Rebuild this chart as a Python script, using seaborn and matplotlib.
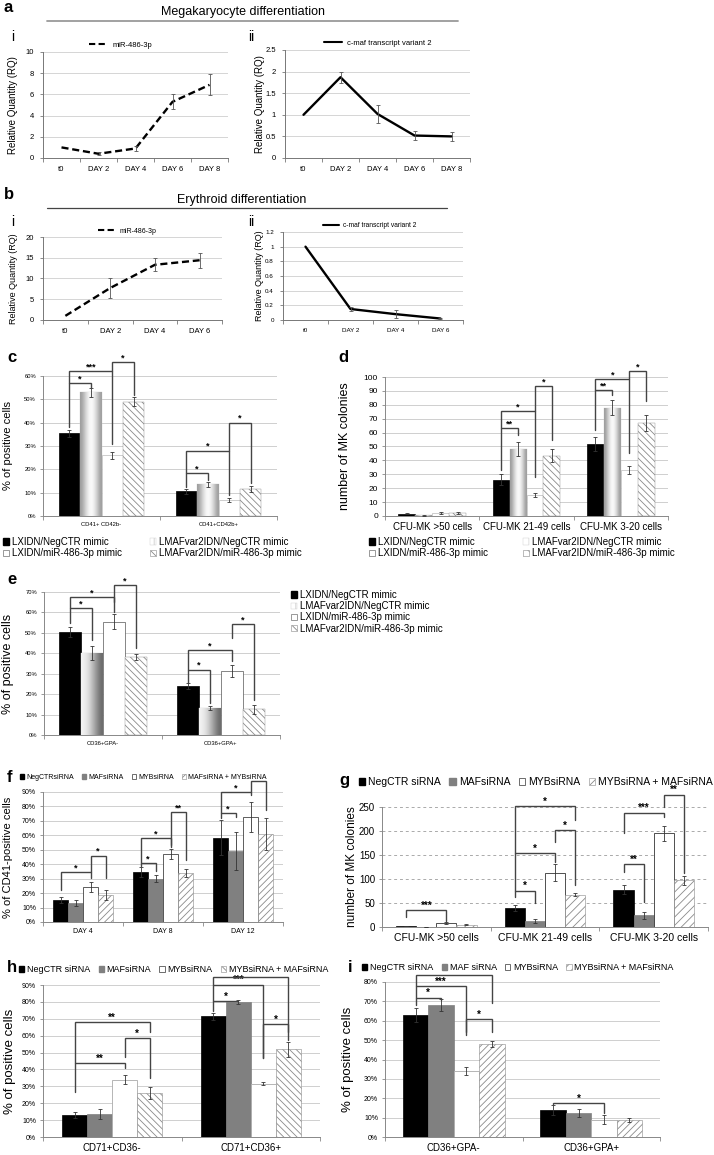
import numpy as np
import pandas as pd
import matplotlib
matplotlib.use("Agg")
import matplotlib.pyplot as plt
import matplotlib.ticker as mticker
from matplotlib.patches import Patch
from matplotlib.lines import Line2D
import seaborn as sns

W, H = 714, 1155

# ---------------- data ----------------
mk_days = ["t0", "DAY 2", "DAY 4", "DAY 6", "DAY 8"]
mk_mir = [1.0, 0.4, 0.9, 5.3, 6.9]
mk_mir_err = [0, 0.12, 0.2, 0.7, 1.0]
mk_cmaf = [1.0, 1.87, 1.02, 0.52, 0.5]
mk_cmaf_err = [0, 0.13, 0.2, 0.1, 0.1]

ery_days = ["t0", "DAY 2", "DAY 4", "DAY 6"]
ery_mir = [1.0, 7.7, 13.3, 14.4]
ery_mir_err = [0, 2.3, 1.6, 1.8]
ery_cmaf = [1.0, 0.15, 0.08, 0.02]
ery_cmaf_err = [0, 0.03, 0.05, 0.005]

mimic_series = ["LXIDN/NegCTR mimic", "LMAFvar2IDN/NegCTR mimic",
                "LXIDN/miR-486-3p mimic", "LMAFvar2IDN/miR-486-3p mimic"]
sirna_series = ["NegCTR siRNA", "MAFsiRNA", "MYBsiRNA", "MYBsiRNA + MAFsiRNA"]

c_groups = ["CD41+ CD42b-", "CD41+CD42b+"]
c_vals = [[35.5, 10.5], [53, 13.5], [26, 7], [49, 11.5]]
c_errs = [[1.5, 1.0], [2.0, 1.2], [1.5, 0.8], [2.0, 1.2]]

d_groups = ["CFU-MK >50 cells", "CFU-MK 21-49 cells", "CFU-MK 3-20 cells"]
d_vals = [[1.5, 26, 52], [0.5, 48, 78], [2, 15, 33], [2, 43.5, 67]]
d_errs = [[0.4, 4, 5], [0.3, 5, 5.5], [0.8, 1.5, 3], [0.6, 4.5, 5.5]]

e_groups = ["CD36+GPA-", "CD36+GPA+"]
e_vals = [[50.5, 24], [40, 13], [55.5, 31.5], [38, 12.5]]
e_errs = [[2.5, 1.5], [3.5, 1.0], [3.5, 3.0], [1.5, 2.0]]

f_groups = ["DAY 4", "DAY 8", "DAY 12"]
f_vals = [[15, 34.5, 58.5], [13, 30, 49], [24.5, 47, 72.5], [18.5, 34, 61]]
f_errs = [[2, 3.5, 12], [2, 2.5, 13], [3.5, 3.5, 10.5], [3.5, 2.5, 11]]

g_groups = ["CFU-MK >50 cells", "CFU-MK 21-49 cells", "CFU-MK 3-20 cells"]
g_vals = [[2, 40, 78], [0.5, 12.5, 24], [8.5, 113, 195], [5, 67, 97]]
g_errs = [[0.5, 6, 10], [0.3, 5, 8], [1.5, 18, 15], [1.5, 3, 9]]

h_groups = ["CD71+CD36-", "CD71+CD36+"]
h_vals = [[13, 71.5], [13.5, 80], [34, 31.5], [26, 52]]
h_errs = [[2, 2], [3, 1], [2.5, 1], [3.5, 4.5]]

i_groups = ["CD36+GPA-", "CD36+GPA+"]
i_vals = [[63, 14], [68, 12.5], [34, 9], [48, 9]]
i_errs = [[3.5, 2.5], [3, 2], [2, 2.5], [1.5, 1]]

# significance brackets: (group, bar a, bar b, level, foot a, foot b, label)
c_sig = [(0, 0, 1, 57, 38, 55, "*"), (0, 0, 2, 62, 57, 31, "***"), (0, 2, 3, 66, 62, 52, "*"),
         (1, 0, 1, 18.5, 12.5, 15.5, "*"), (1, 0, 2, 28, 18.5, 9, "*"), (1, 2, 3, 40, 28, 14, "*")]
d_sig = [(1, 0, 1, 63, 33, 58, "**"), (1, 0, 2, 75.5, 63, 28, "*"), (1, 2, 3, 93.5, 75.5, 55, "*"),
         (2, 0, 1, 90.5, 62, 87, "**"), (2, 0, 2, 98.5, 90.5, 45, "*"), (2, 2, 3, 104.5, 98.5, 83, "*")]
e_sig = [(0, 0, 1, 62, 55, 46.5, "*"), (0, 0, 2, 67.6, 62, 60, "*"), (0, 2, 3, 73.5, 65, 42.5, "*"),
         (1, 0, 1, 32, 25.5, 15.7, "*"), (1, 0, 2, 41.7, 32, 36, "*"), (1, 2, 3, 54.4, 47.5, 17, "*")]
f_sig = [(0, 0, 2, 34.6, 22, 30.5, "*"), (0, 2, 3, 46, 34.6, 30.5, "*"),
         (1, 0, 1, 41, 38.5, 35.5, "*"), (1, 0, 2, 58, 41, 53.3, "*"), (1, 2, 3, 76, 52, 43, "**"),
         (2, 0, 1, 75.4, 72, 73, "*"), (2, 0, 2, 90, 75.4, 88, "*"), (2, 2, 3, 97.6, 90, 77.5, "")]
g_sig = [(0, 0, 2, 35, 21, 13, "***"),
         (1, 0, 1, 75, 62, 50, "*"), (1, 0, 2, 154, 75, 135, "*"), (1, 0, 3, 252, 154, 223, "*"),
         (1, 2, 3, 202, 177, 88, "*"),
         (2, 0, 1, 131, 115, 52, "**"), (2, 0, 2, 238, 195, 229, "***"), (2, 2, 3, 275, 250, 112, "**")]
h_sig = [(0, 0, 2, 43.8, 26.6, 41, "**"), (0, 2, 3, 58.6, 47.3, 34.9, "*"), (0, 0, 3, 68, 43.8, 62, "**"),
         (1, 0, 1, 80.5, 74.6, 80, "*"), (1, 0, 2, 90, 80.5, 46.7, "***"), (1, 0, 3, 94.7, 90, 57.4, ""),
         (1, 2, 3, 66.9, 46.7, 62, "*")]
i_sig = [(0, 0, 1, 72, 68, 70.6, "*"), (0, 0, 2, 77.8, 72, 54, "***"), (0, 0, 3, 83.5, 77.8, 69, ""),
         (0, 2, 3, 60.8, 52.6, 54, "*"), (1, 0, 2, 17.5, 16.8, 12.4, "*")]

# ---------------- helpers ----------------
sns.set_theme(style="ticks")
plt.rcParams["font.family"] = ["Liberation Sans", "DejaVu Sans"]
plt.rcParams.update({"text.color": "black", "axes.labelcolor": "black",
                     "xtick.color": "black", "ytick.color": "black",
                     "hatch.linewidth": 0.6})

fig = plt.figure(figsize=(W / 100, H / 100), dpi=100)

DASH = (0, (3, 1.6))
GRAD_CYL = [0.62, 0.78, 0.92, 1.0, 0.93, 0.8, 0.62]
GRAD_E = [0.95, 0.9, 0.82, 0.68, 0.55, 0.42]


def add_ax(l, t, r, b):
    return fig.add_axes([l / W, 1 - b / H, (r - l) / W, (b - t) / H])


def ylabel_at(ax, text, cx, fs):
    pos = ax.get_position()
    px = cx + 0.42 * fs * 1.389
    ax.set_ylabel(text, fontsize=fs)
    ax.yaxis.set_label_coords((px / W - pos.x0) / pos.width, 0.5)


def letter(x, y, s, fs=12, bold=True):
    fig.text(x / W, 1 - y / H, s, fontsize=fs, fontweight="bold" if bold else "normal",
             va="center", ha="left")


def line_panel(ax, days, vals, errs, ymax, step, ls, fs_tick):
    x = np.arange(len(days))
    sns.lineplot(x=x, y=vals, ax=ax, color="black", linewidth=1.7, linestyle=ls, legend=False)
    errs = np.asarray(errs)
    m = errs > 0
    ax.errorbar(x[m], np.asarray(vals)[m], yerr=errs[m], fmt="none", ecolor="#555555",
                elinewidth=0.6, capsize=1.6, capthick=0.6, zorder=3)
    ax.set_xlim(-0.5, len(days) - 0.5)
    ax.set_ylim(0, ymax)
    ax.set_yticks(np.arange(0, ymax + step / 2, step))
    ax.yaxis.set_major_formatter(mticker.FuncFormatter(lambda v, _: f"{v:g}"))
    ax.set_xticks(x, days)
    ax.set_xticks(np.arange(-0.5, len(days)), minor=True)
    ax.tick_params(axis="x", which="major", length=0, labelsize=fs_tick, pad=6)
    ax.tick_params(axis="x", which="minor", length=3, width=0.6, color="#777777")
    ax.tick_params(axis="y", length=2.5, width=0.6, color="#777777", labelsize=fs_tick, pad=4)
    sns.despine(ax=ax)
    for s in ("left", "bottom"):
        ax.spines[s].set_color("#777777")
        ax.spines[s].set_linewidth(0.7)
    ax.yaxis.grid(True, color="#cfcfcf", lw=0.6)
    ax.set_axisbelow(True)


def line_legend(ax, ls, text, fs, xc=0.5):
    ax.legend([Line2D([0], [0], color="black", lw=1.5, linestyle=ls)], [text],
              loc="lower center", bbox_to_anchor=(xc, 1.03), frameon=False, fontsize=fs,
              handlelength=2.4, handletextpad=0.6, borderpad=0, borderaxespad=0)


def gradient_fill(ax, bar, grad):
    x, y = bar.get_x(), bar.get_y()
    w, h = bar.get_width(), bar.get_height()
    im = ax.imshow(np.array([grad]), cmap="gray", vmin=0, vmax=1, aspect="auto",
                   extent=[x, x + w, y, y + h], interpolation="bicubic",
                   zorder=bar.get_zorder() + 0.05)
    im.set_clip_path(bar)


def bar_panel(ax, groups, series, vals, errs, styles, width):
    df = pd.DataFrame({
        "group": [g for _ in series for g in groups],
        "series": [s for s in series for _ in groups],
        "value": [v for row in vals for v in row],
    })
    sns.barplot(data=df, x="group", y="value", hue="series", order=groups, hue_order=series,
                errorbar=None, width=width, gap=0, saturation=1, legend=False, ax=ax,
                palette=["#777777"] * len(series))
    centers = np.zeros((len(series), len(groups)))
    for i, cont in enumerate(ax.containers[:len(series)]):
        st = styles[i]
        for bar in cont:
            cx = bar.get_x() + bar.get_width() / 2
            k = int(round(cx))
            centers[i, k] = cx
            bar.set_facecolor(st["fc"])
            bar.set_edgecolor(st["ec"])
            bar.set_linewidth(st.get("lw", 0.5))
            if st.get("hatch"):
                bar.set_hatch(st["hatch"])
            if st.get("grad") is not None:
                gradient_fill(ax, bar, st["grad"])
    ax.errorbar(centers.ravel(), np.ravel(vals), yerr=np.ravel(errs), fmt="none",
                ecolor="#333333", elinewidth=0.6, capsize=1.5, capthick=0.6, zorder=4)
    return centers


def style_bar_axes(ax, groups, ylim, step, fs_tick, fs_x, pct, grid_ls="-"):
    ax.set_xlim(-0.5, len(groups) - 0.5)
    ax.set_ylim(0, ylim)
    ax.set_yticks(np.arange(0, ylim + step / 2, step))
    if pct:
        ax.yaxis.set_major_formatter(mticker.FuncFormatter(lambda v, _: f"{v:.0f}%"))
    ax.set_xticks(range(len(groups)), groups)
    ax.set_xticks(np.arange(-0.5, len(groups)), minor=True)
    ax.tick_params(axis="x", which="major", length=0, labelsize=fs_x, pad=4)
    ax.tick_params(axis="x", which="minor", length=3, width=0.6, color="#888888")
    ax.tick_params(axis="y", labelsize=fs_tick, length=2, width=0.6, color="#888888", pad=3)
    ax.set_xlabel("")
    ax.set_ylabel("")
    sns.despine(ax=ax)
    for s in ("left", "bottom"):
        ax.spines[s].set_color("#888888")
        ax.spines[s].set_linewidth(0.7)
    ax.yaxis.grid(True, color="#c8c8c8", lw=0.6, ls=grid_ls)
    ax.set_axisbelow(True)


def draw_sig(ax, centers, sig, fs=7):
    for g, a, b, y, fa, fb, lab in sig:
        x1, x2 = centers[a, g], centers[b, g]
        ax.plot([x1, x1, x2, x2], [fa, y, y, fb], color="#444444", lw=1.0, clip_on=False,
                zorder=6, solid_joinstyle="miter")
        if lab:
            ax.annotate(lab, ((x1 + x2) / 2, y), xytext=(0, 1.2), textcoords="offset points",
                        ha="center", va="baseline", fontsize=fs, fontweight="bold",
                        annotation_clip=False)


def fig_legend(handles, labels, x, y, ncol, fs, colsp, labsp=0.2):
    fig.legend(handles, labels, loc="upper left", bbox_to_anchor=(x / W, 1 - y / H),
               bbox_transform=fig.transFigure, ncol=ncol, fontsize=fs, frameon=False,
               handlelength=0.6, handleheight=0.6, handletextpad=0.3, columnspacing=colsp,
               labelspacing=labsp, borderpad=0, borderaxespad=0)


mimic_styles = [
    {"fc": "black", "ec": "black"},
    {"fc": "#dddddd", "ec": "#cccccc", "lw": 0.3, "grad": GRAD_CYL},
    {"fc": "white", "ec": "#bbbbbb", "lw": 0.5},
    {"fc": "white", "ec": "#8a8a8a", "lw": 0.3, "hatch": "\\\\\\\\\\"},
]
mimic_handles = [Patch(fc="black", ec="black"),
                 Patch(fc="white", ec="#cccccc", hatch="||", lw=0.3),
                 Patch(fc="white", ec="#888888", lw=0.6),
                 Patch(fc="white", ec="#888888", hatch="\\\\\\", lw=0.4)]


def sirna_styles(hatch, white_ec):
    return [{"fc": "black", "ec": "black"},
            {"fc": "#808080", "ec": "#808080"},
            {"fc": "white", "ec": white_ec, "lw": 0.6},
            {"fc": "white", "ec": "#8a8a8a", "lw": 0.4, "hatch": hatch}]


def sirna_handles(hatch):
    return [Patch(fc="black", ec="black"), Patch(fc="#808080", ec="#808080"),
            Patch(fc="white", ec="#555555", lw=0.6), Patch(fc="white", ec="#888888", hatch=hatch, lw=0.4)]


# ---------------- panel a ----------------
letter(4, 8, "a")
fig.text(243 / W, 1 - 12 / H, "Megakaryocyte differentiation", fontsize=9, ha="center", va="center")
fig.add_artist(Line2D([47 / W, 458 / W], [1 - 21 / H] * 2, color="#9a9a9a", lw=1.3))
letter(11, 37, "i", fs=10, bold=False)
letter(248, 37, "ii", fs=10, bold=False)

ax = add_ax(43, 52, 228, 158)
line_panel(ax, mk_days, mk_mir, mk_mir_err, 10, 2, DASH, 5.5)
line_legend(ax, DASH, "miR-486-3p", 5.5, xc=0.42)
ylabel_at(ax, "Relative Quantity (RQ)", 14, 7)

ax = add_ax(285, 50, 470, 158)
line_panel(ax, mk_days, mk_cmaf, mk_cmaf_err, 2.5, 0.5, "-", 5.5)
line_legend(ax, "-", "c-maf transcript variant 2", 5.5)
ylabel_at(ax, "Relative Quantity (RQ)", 261, 7)

# ---------------- panel b ----------------
letter(4, 195, "b")
fig.text(242 / W, 1 - 200 / H, "Erythroid differentiation", fontsize=9, ha="center", va="center")
fig.add_artist(Line2D([47 / W, 447 / W], [1 - 208 / H] * 2, color="#444444", lw=0.9))
letter(11, 222, "i", fs=10, bold=False)
letter(248, 222, "ii", fs=10, bold=False)

ax = add_ax(43, 237, 222, 320)
line_panel(ax, ery_days, ery_mir, ery_mir_err, 20, 5, DASH, 5.5)
line_legend(ax, DASH, "miR-486-3p", 5, xc=0.47)
ylabel_at(ax, "Relative Quantity (RQ)", 14, 6.5)

ax = add_ax(283, 232, 463, 320)
line_panel(ax, ery_days, ery_cmaf, ery_cmaf_err, 1.2, 0.2, "-", 4.5)
line_legend(ax, "-", "c-maf transcript variant 2", 4.8, xc=0.48)
ylabel_at(ax, "Relative Quantity (RQ)", 260, 6.5)

# ---------------- panel c ----------------
letter(7, 358, "c")
ax = add_ax(43, 376, 277, 516)
cen = bar_panel(ax, c_groups, mimic_series, c_vals, c_errs, mimic_styles, 0.73)
style_bar_axes(ax, c_groups, 60, 10, 4.2, 4.2, True)
draw_sig(ax, cen, c_sig, fs=6.5)
ylabel_at(ax, "% of positive cells", 8, 8)
fig_legend([mimic_handles[0], mimic_handles[2], mimic_handles[1], mimic_handles[3]],
           [mimic_series[0], mimic_series[2], mimic_series[1], mimic_series[3]],
           3, 537, 2, 7, 2.9, labsp=0.15)

# ---------------- panel d ----------------
letter(338, 358, "d")
ax = add_ax(385, 377, 668, 516)
cen = bar_panel(ax, d_groups, mimic_series, d_vals, d_errs, mimic_styles, 0.72)
style_bar_axes(ax, d_groups, 100, 10, 6, 7, False)
draw_sig(ax, cen, d_sig, fs=6.5)
ylabel_at(ax, "number of MK colonies", 346, 9)
fig_legend([mimic_handles[0], mimic_handles[2], mimic_handles[1], mimic_handles[3]],
           [mimic_series[0], mimic_series[2], mimic_series[1], mimic_series[3]],
           369, 537, 2, 7, 3.6, labsp=0.12)

# ---------------- panel e ----------------
letter(7, 580, "e")
ax = add_ax(44, 592, 280, 735)
e_styles = [dict(s) for s in mimic_styles]
e_styles[1]["grad"] = GRAD_E
e_styles[2]["ec"] = "#555555"
cen = bar_panel(ax, e_groups, mimic_series, e_vals, e_errs, e_styles, 0.74)
style_bar_axes(ax, e_groups, 70, 10, 4.2, 4.2, True)
draw_sig(ax, cen, e_sig, fs=6.5)
ylabel_at(ax, "% of positive cells", 9, 9)
fig_legend(mimic_handles, mimic_series, 291, 590, 1, 7, 1.0, labsp=0.12)

# ---------------- panel f ----------------
letter(7, 778, "f")
ax = add_ax(43, 792, 283, 922)
cen = bar_panel(ax, f_groups, sirna_series, f_vals, f_errs, sirna_styles("/////", "#444444"), 0.75)
style_bar_axes(ax, f_groups, 90, 10, 5, 5, True)
draw_sig(ax, cen, f_sig, fs=6.5)
ylabel_at(ax, "% of CD41-positive cells", 8, 8)
fig_legend(sirna_handles("/////"), ["NegCTRsiRNA", "MAFsiRNA", "MYBsiRNA", "MAFsiRNA + MYBsiRNA"],
           20, 774, 4, 5, 1.2)

# ---------------- panel g ----------------
letter(339, 781, "g")
ax = add_ax(382, 807, 708, 927)
cen = bar_panel(ax, g_groups, sirna_series, g_vals, g_errs, sirna_styles("////", "#333333"), 0.74)
style_bar_axes(ax, g_groups, 250, 50, 7, 7.5, False, grid_ls=(0, (3, 3)))
ax.yaxis.grid(True, color="#aaaaaa", lw=0.7, ls=(0, (3, 3)))
draw_sig(ax, cen, g_sig, fs=7)
ylabel_at(ax, "number of MK colonies", 353, 8.5)
fig_legend(sirna_handles("////"), sirna_series, 359, 777, 4, 7.5, 0.8)

# ---------------- panel h ----------------
letter(7, 968, "h")
ax = add_ax(43, 985, 320, 1137)
cen = bar_panel(ax, h_groups, sirna_series, h_vals, h_errs, sirna_styles("\\\\\\\\\\", "#aaaaaa"), 0.72)
style_bar_axes(ax, h_groups, 90, 10, 5, 7, True)
draw_sig(ax, cen, h_sig, fs=7)
ylabel_at(ax, "% of positive cells", 10, 9.5)
fig_legend(sirna_handles("\\\\\\"), sirna_series, 19, 965, 4, 6.5, 0.9)

# ---------------- panel i ----------------
letter(348, 968, "i")
ax = add_ax(385, 982, 660, 1137)
cen = bar_panel(ax, i_groups, sirna_series, i_vals, i_errs, sirna_styles("/////", "#aaaaaa"), 0.74)
style_bar_axes(ax, i_groups, 80, 10, 5, 7, True)
draw_sig(ax, cen, i_sig, fs=7)
ylabel_at(ax, "% of positive cells", 348, 9.5)
fig_legend(sirna_handles("////"), ["NegCTR siRNA", "MAF siRNA", "MYBsiRNA", "MYBsiRNA + MAFsiRNA"],
           362, 963, 4, 6.5, 0.9)

fig.savefig("out.png", dpi=100)
